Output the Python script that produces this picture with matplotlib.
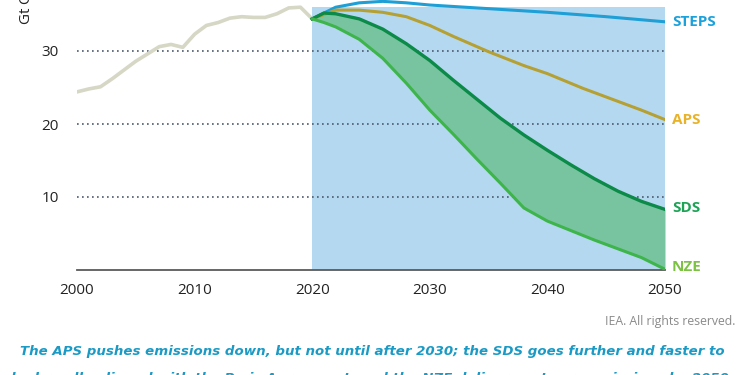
import matplotlib
matplotlib.use("Agg")
import matplotlib.pyplot as plt

# historical emissions
hist_years = list(range(2000, 2021))
hist_vals = [24.4, 24.8, 25.1, 26.2, 27.4, 28.6, 29.6, 30.6, 30.9, 30.5, 32.3,
             33.5, 33.9, 34.5, 34.7, 34.6, 34.6, 35.1, 35.9, 36.0, 34.4]

steps_years = [2020, 2022, 2024, 2026, 2028, 2030, 2035, 2040, 2045, 2050]
steps_vals = [34.4, 36.0, 36.6, 36.8, 36.6, 36.3, 35.8, 35.3, 34.7, 34.0]

aps_years = [2020, 2022, 2024, 2026, 2028, 2030, 2032, 2035, 2038, 2040, 2043, 2045, 2048, 2050]
aps_vals = [34.4, 35.6, 35.6, 35.3, 34.7, 33.5, 32.0, 29.9, 28.0, 26.9, 24.9, 23.7, 21.9, 20.6]

# SDS and NZE share the same years so the band can be filled
scen_years = [2020, 2021, 2022, 2024, 2026, 2028, 2030, 2032, 2034, 2036, 2038,
              2040, 2042, 2044, 2046, 2048, 2050]
sds_vals = [34.4, 35.2, 35.1, 34.4, 33.0, 31.0, 28.7, 26.0, 23.4, 20.8, 18.5,
            16.4, 14.4, 12.5, 10.8, 9.4, 8.3]
nze_vals = [34.4, 33.9, 33.3, 31.6, 29.0, 25.6, 21.9, 18.6, 15.2, 11.9, 8.5,
            6.7, 5.4, 4.1, 2.9, 1.7, 0.1]

labels = ["STEPS", "APS", "SDS", "NZE"]
label_y = [34.0, 20.6, 8.5, 0.4]
label_colors = ["#1ba1dc", "#e8b32a", "#1da356", "#7cc242"]

fig = plt.figure(figsize=(7.5, 3.75), dpi=100)
ax = fig.add_axes([77 / 750, 0.28, 588 / 750, 292 / 375])
ax.set_xlim(2000, 2050)
ax.set_ylim(0, 40)

ax.fill_between([2020, 2050], 0, 36, color="#b5d8f1", lw=0, zorder=0)
ax.hlines([10, 20, 30], 2000, 2050, colors="#4b5a70", linestyles=(0, (1, 2)), lw=1.2, zorder=1)

ax.plot(hist_years, hist_vals, color="#d6d7c5", lw=2.6, zorder=3)
ax.fill_between(scen_years, nze_vals, sds_vals, color="#79c4a0", lw=0, zorder=2)
ax.plot(steps_years, steps_vals, color="#1e9fd6", lw=2.2, zorder=4)
ax.plot(aps_years, aps_vals, color="#b5a033", lw=2.2, zorder=4)
ax.plot(scen_years, sds_vals, color="#0b8a48", lw=2.4, zorder=4)
ax.plot(scen_years, nze_vals, color="#3db54a", lw=2.2, zorder=4)

for lab, yv, c in zip(labels, label_y, label_colors):
    ax.text(2050.6, yv, lab, color=c, fontsize=11, fontweight="bold",
            family="Open Sans", va="center", ha="left", clip_on=False)

for s in ["top", "right", "left"]:
    ax.spines[s].set_visible(False)
ax.spines["bottom"].set_color("#5a5a5a")
ax.spines["bottom"].set_linewidth(1.3)
ax.set_xticks([2000, 2010, 2020, 2030, 2040, 2050])
ax.set_yticks([10, 20, 30])
ax.tick_params(length=0, labelsize=11, pad=13, colors="#222222")
ax.tick_params(axis="x", pad=9)
for t in ax.get_xticklabels() + ax.get_yticklabels():
    t.set_family("Open Sans")

fig.text(27 / 750, 1 - 25 / 375, "Gt CO$_2$", rotation=90, ha="center", va="bottom",
         fontsize=11, family="Open Sans", color="#222222")

fig.text(735 / 750, 1 - 321 / 375, "IEA. All rights reserved.", ha="right", va="center",
         fontsize=8.8, family="Open Sans", color="#8a8a8a")

fig.text(0.497, 1 - 352 / 375,
         "The APS pushes emissions down, but not until after 2030; the SDS goes further and faster to",
         ha="center", va="center", fontsize=9.6, family="DejaVu Sans", style="oblique",
         fontweight="bold", color="#1a9ac4")
fig.text(0.497, 1 - 378.5 / 375,
         "be broadly aligned with the Paris Agreement, and the NZE delivers net zero emissions by 2050.",
         ha="center", va="center", fontsize=9.6, family="DejaVu Sans", style="oblique",
         fontweight="bold", color="#1a9ac4")

fig.savefig("out.png", dpi=100)
